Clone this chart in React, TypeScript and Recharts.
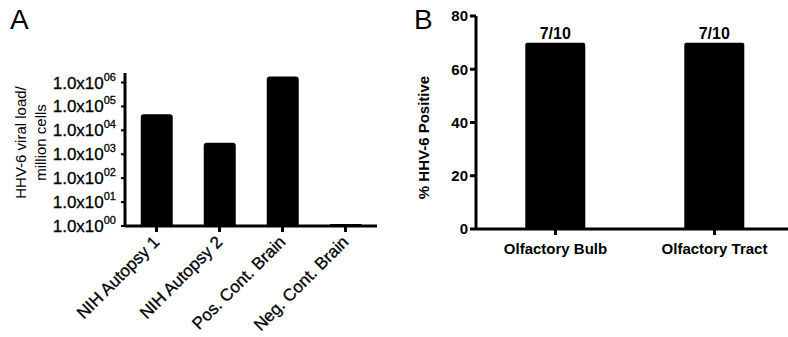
import { BarChart, Bar, XAxis, YAxis, LabelList } from "recharts";

const samplesA = ["NIH Autopsy 1", "NIH Autopsy 2", "Pos. Cont. Brain", "Neg. Cont. Brain"];
const viralLoad = [47000, 3000, 1800000, 1.2];
const logTicks = [1, 10, 100, 1000, 10000, 100000, 1000000];

const tissuesB = ["Olfactory Bulb", "Olfactory Tract"];
const pctPositive = [70, 70];
const fractions = ["7/10", "7/10"];
const pctTicks = [0, 20, 40, 60, 80];

const FONT = '"Liberation Sans", Arial, Helvetica, sans-serif';
const axisStroke = { stroke: "#000", strokeWidth: 3 };

const dataA = samplesA.map((name, i) => ({ name, value: viralLoad[i] }));
const dataB = tissuesB.map((name, i) => ({ name, value: pctPositive[i], label: fractions[i] }));

function LogTick(props: any) {
  const { x, y, payload } = props;
  const exp = Math.round(Math.log10(payload.value)).toString().padStart(2, "0");
  return (
    <text x={x - 3} y={y + 6} textAnchor="end" fontSize={17} fontFamily={FONT} fill="#000" stroke="#000" strokeWidth={0.3}>
      1.0x10
      <tspan fontSize={11} dy={-8}>
        {exp}
      </tspan>
    </text>
  );
}

function SlantTick(props: any) {
  const { x, y, payload } = props;
  const ax = x + 4;
  const ay = y + 9;
  return (
    <text
      x={ax}
      y={ay}
      textAnchor="end"
      fontSize={17}
      fontFamily={FONT}
      fill="#000"
      stroke="#000"
      strokeWidth={0.3}
      transform={`rotate(-45, ${ax}, ${ay})`}
    >
      {payload.value}
    </text>
  );
}

function YLabelA(props: any) {
  const vb = props.viewBox;
  const cy = vb.y + vb.height / 2 - 7;
  return (
    <g>
      <text x={20} y={cy} transform={`rotate(-90, 20, ${cy})`} textAnchor="middle" dominantBaseline="central" fontSize={15} fontFamily={FONT} fill="#000">
        HHV-6 viral load/
      </text>
      <text x={40} y={cy} transform={`rotate(-90, 40, ${cy})`} textAnchor="middle" dominantBaseline="central" fontSize={15} fontFamily={FONT} fill="#000">
        million cells
      </text>
    </g>
  );
}

function YLabelB(props: any) {
  const vb = props.viewBox;
  const cy = vb.y + vb.height / 2 + 15;
  return (
    <text x={23} y={cy} transform={`rotate(-90, 23, ${cy})`} textAnchor="middle" dominantBaseline="central" fontSize={15} fontWeight="bold" fontFamily={FONT} fill="#000">
      % HHV-6 Positive
    </text>
  );
}

export default function App() {
  return (
    <div style={{ position: "absolute", left: 0, top: 0, width: 788, height: 337, overflow: "hidden", background: "#fff", fontFamily: FONT }}>
      <div style={{ position: "absolute", left: 10, top: 4, fontSize: 28, color: "#000" }}>A</div>
      <div style={{ position: "absolute", left: 414, top: 4, fontSize: 28, color: "#000" }}>B</div>

      <div style={{ position: "absolute", left: 0, top: 0 }}>
        <BarChart width={400} height={337} data={dataA} margin={{ top: 73, right: 23, bottom: 11, left: 0 }} barCategoryGap="25%">
          <XAxis
            dataKey="name"
            stroke="#000"
            strokeWidth={3}
            axisLine={axisStroke}
            tickLine={axisStroke}
            tickSize={6}
            height={100}
            interval={0}
            tick={<SlantTick />}
          />
          <YAxis
            scale="log"
            domain={[1, 2500000]}
            ticks={logTicks}
            allowDataOverflow
            width={125}
            stroke="#000"
            strokeWidth={3}
            axisLine={axisStroke}
            tickLine={{ stroke: "#000", strokeWidth: 2 }}
            tickSize={4}
            tick={<LogTick />}
            label={<YLabelA />}
          />
          <Bar dataKey="value" fill="#000" radius={[3, 3, 0, 0]} isAnimationActive={false} />
        </BarChart>
      </div>

      <div style={{ position: "absolute", left: 400, top: 0 }}>
        <BarChart width={400} height={337} data={dataB} margin={{ top: 16, right: 6, bottom: 8, left: 0 }} barCategoryGap="31%">
          <XAxis
            dataKey="name"
            stroke="#000"
            strokeWidth={3}
            axisLine={axisStroke}
            tickLine={axisStroke}
            tickSize={6}
            tickMargin={8}
            height={100}
            interval={0}
            tick={{ fontSize: 15, fontWeight: "bold", fill: "#000", stroke: "none", fontFamily: FONT }}
          />
          <YAxis
            domain={[0, 80]}
            ticks={pctTicks}
            width={76}
            stroke="#000"
            strokeWidth={3}
            axisLine={axisStroke}
            tickLine={axisStroke}
            tickSize={6}
            tickMargin={2}
            tick={{ fontSize: 15, fontWeight: "bold", fill: "#000", stroke: "none", fontFamily: FONT }}
            label={<YLabelB />}
          />
          <Bar dataKey="value" fill="#000" radius={[2, 2, 0, 0]} isAnimationActive={false}>
            <LabelList dataKey="label" position="top" offset={4} fontSize={16} fontWeight="bold" fill="#000" fontFamily={FONT} />
          </Bar>
        </BarChart>
      </div>
    </div>
  );
}
